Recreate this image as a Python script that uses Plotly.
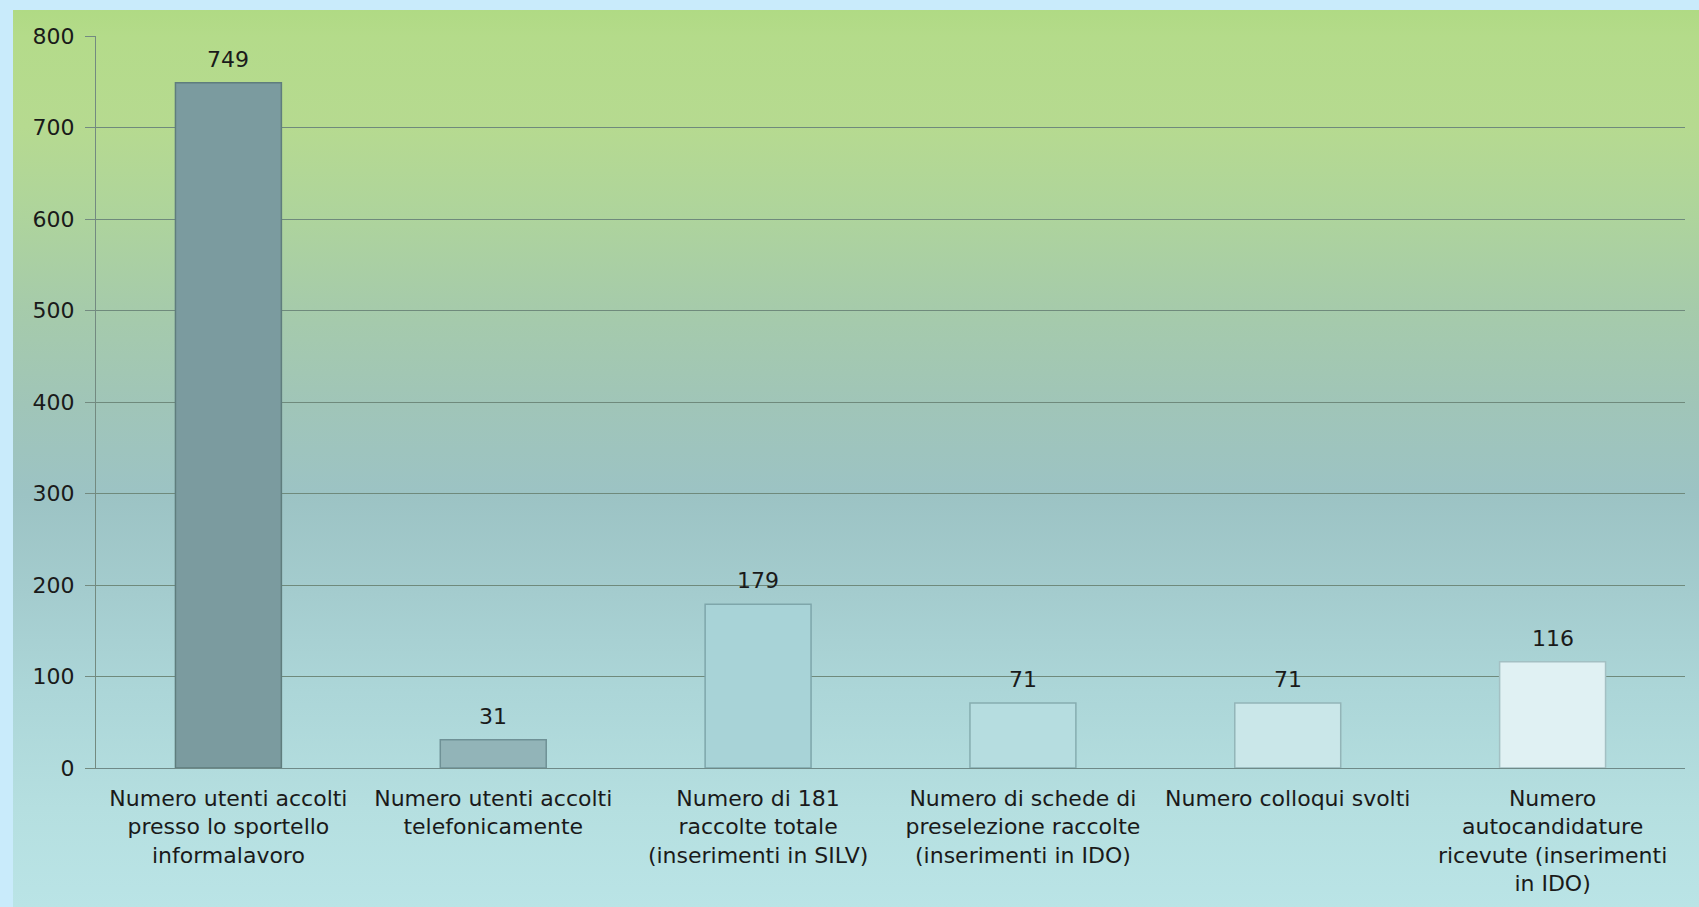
import base64
import plotly.graph_objects as go

categories = [
    "Numero utenti accolti<br>presso lo sportello<br>informalavoro",
    "Numero utenti accolti<br>telefonicamente",
    "Numero di 181<br>raccolte totale<br>(inserimenti in SILV)",
    "Numero di schede di<br>preselezione raccolte<br>(inserimenti in IDO)",
    "Numero colloqui svolti",
    "Numero<br>autocandidature<br>ricevute (inserimenti<br>in IDO)",
]
values = [749, 31, 179, 71, 71, 116]
bar_colors = ["#7b9b9f", "#92b4b8", "#a8d3d7", "#b6dde0", "#cae7e9", "#e0f1f3"]
bar_edges = ["#5f7d7d", "#6f9196", "#7ea6aa", "#86adb0", "#93b5b8", "#a3c0c3"]
y_ticks = [0, 100, 200, 300, 400, 500, 600, 700, 800]

FONT = "DejaVu Sans"
W, H = 1699, 907
ML, MR, MT, MB = 96, 14, 36, 139

# background gradient panel as an SVG image
svg = """<svg xmlns='http://www.w3.org/2000/svg' width='1686' height='897' viewBox='0 0 1686 897' preserveAspectRatio='none'>
<defs><linearGradient id='g' x1='0' y1='0' x2='0' y2='1'>
<stop offset='0' stop-color='#b0da84'/>
<stop offset='0.03' stop-color='#b4db8a'/>
<stop offset='0.13' stop-color='#b6da90'/>
<stop offset='0.23' stop-color='#aed49c'/>
<stop offset='0.33' stop-color='#a6cbaa'/>
<stop offset='0.44' stop-color='#a0c5b8'/>
<stop offset='0.54' stop-color='#9cc3c4'/>
<stop offset='0.65' stop-color='#a4ccce'/>
<stop offset='0.76' stop-color='#acd6d8'/>
<stop offset='0.89' stop-color='#b5dfe0'/>
<stop offset='1' stop-color='#bae4e6'/>
</linearGradient></defs>
<rect x='0' y='0' width='1686' height='897' fill='url(#g)'/>
</svg>"""
src = "data:image/svg+xml;base64," + base64.b64encode(svg.encode()).decode()

pw = W - ML - MR
ph = H - MT - MB
img_x0, img_y0 = 13, 10
img = dict(
    source=src, xref="paper", yref="paper",
    x=(img_x0 - ML) / pw, y=1 + (MT - img_y0) / ph,
    sizex=(W - img_x0) / pw, sizey=(H - img_y0) / ph,
    xanchor="left", yanchor="top", sizing="stretch", layer="below",
)

fig = go.Figure()
fig.add_trace(go.Bar(
    x=categories, y=values, width=0.4,
    marker=dict(color=bar_colors, line=dict(color=bar_edges, width=1.5)),
    hoverinfo="x+y",
))

annotations = [
    dict(x=c, y=v, text=str(v), showarrow=False, yanchor="bottom", yshift=9,
         font=dict(family=FONT, size=22, color="#1a1a1a"))
    for c, v in zip(categories, values)
]

fig.update_layout(
    width=W, height=H,
    margin=dict(l=ML, r=MR, t=MT, b=MB),
    paper_bgcolor="#c9ebfb",
    plot_bgcolor="rgba(0,0,0,0)",
    images=[img],
    annotations=annotations,
    showlegend=False,
    bargap=0.6,
    font=dict(family=FONT, size=22, color="#1a1a1a"),
    xaxis=dict(
        showline=True, linecolor="#6f8a88", linewidth=1.2,
        showgrid=False, ticks="", tickfont=dict(family=FONT, size=22, color="#1a1a1a"),
        tickangle=0, ticklabelstandoff=10,
    ),
    yaxis=dict(
        range=[0, 800], tickvals=y_ticks, showline=True, linecolor="#738a80", linewidth=1,
        showgrid=True, gridcolor="#6f8a7c", gridwidth=1.4,
        ticks="outside", ticklen=10, tickcolor="#738a80",
        tickfont=dict(family=FONT, size=22, color="#1a1a1a"),
        zeroline=False, ticklabelstandoff=6,
    ),
)

fig.write_html("out.html")
